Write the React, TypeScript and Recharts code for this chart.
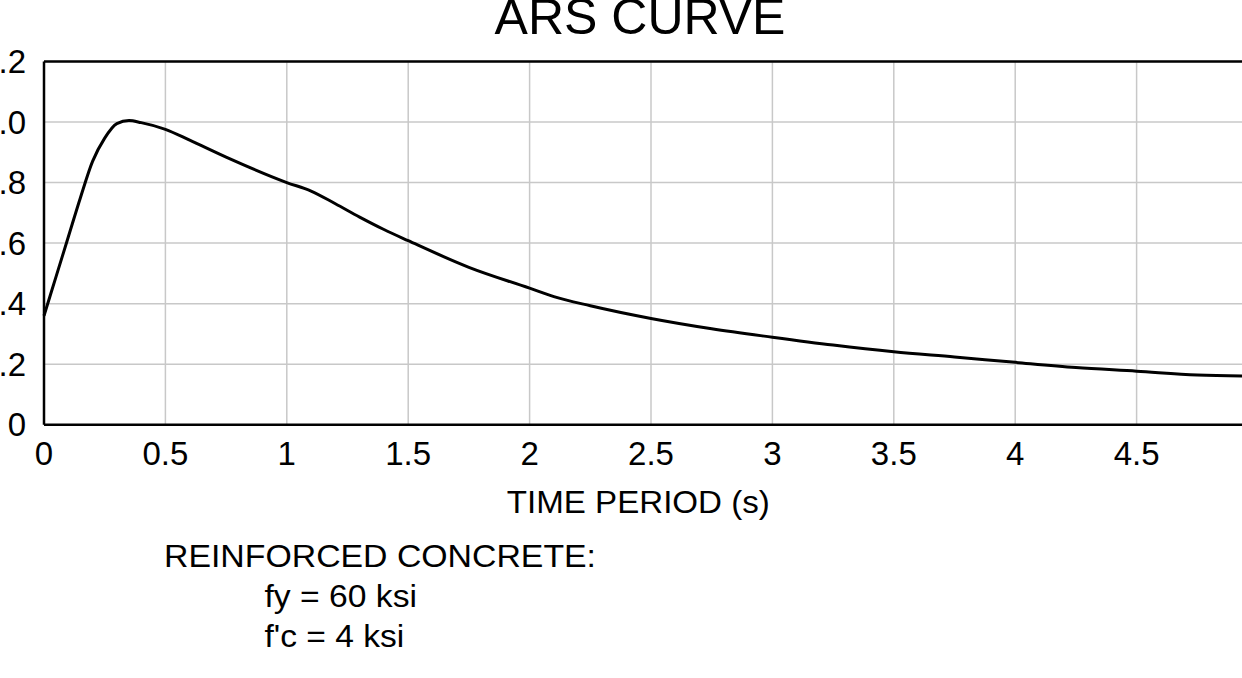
import React from 'react'
import { LineChart, Line, XAxis, YAxis, CartesianGrid, ReferenceLine } from 'recharts'

// period (s) and spectral acceleration
const periods = [0, 0.05, 0.1, 0.15, 0.2, 0.25, 0.3, 0.35, 0.4, 0.5, 0.6, 0.75, 1.0, 1.1, 1.2, 1.3, 1.4, 1.5, 1.75, 2.0, 2.1, 2.25, 2.5, 2.75, 3.0, 3.25, 3.5, 3.75, 4.0, 4.25, 4.5, 4.75, 5.0]
const accel = [0.36, 0.49, 0.62, 0.75, 0.87, 0.947, 0.995, 1.005, 0.998, 0.976, 0.94, 0.884, 0.8, 0.772, 0.73, 0.686, 0.645, 0.608, 0.52, 0.451, 0.423, 0.393, 0.351, 0.317, 0.289, 0.263, 0.241, 0.224, 0.206, 0.189, 0.177, 0.164, 0.16]

const xTicks = [0, 0.5, 1, 1.5, 2, 2.5, 3, 3.5, 4, 4.5, 5]
const yTicks = [0, 0.2, 0.4, 0.6, 0.8, 1.0, 1.2]

const title = 'ARS CURVE'
const xLabel = 'TIME PERIOD (s)'
const noteHead = 'REINFORCED CONCRETE:'
const noteLines = ['fy = 60 ksi', "f'c = 4 ksi"]
const noteWidths = [152.5, 139.6]

const data = periods.map((t, i) => ({ t, a: accel[i] }))

const FONT = '"Liberation Sans", Arial, sans-serif'
const tickStyle = { fontSize: 33, fill: '#000', fontFamily: FONT }

export default function App() {
  return (
    <div
      style={{
        position: 'fixed',
        left: 0,
        top: 0,
        width: 1242,
        height: 678,
        overflow: 'hidden',
        background: '#fff',
        fontFamily: FONT,
      }}
    >
      <div style={{ position: 'absolute', left: 0, top: 0 }}>
        <LineChart width={1270} height={678} data={data} margin={{ top: 61.5, right: 12, bottom: 192.3, left: 0 }}>
          <CartesianGrid stroke="#c8c8c8" strokeWidth={1.5} />
          <XAxis
            dataKey="t"
            type="number"
            domain={[0, 5]}
            ticks={xTicks}
            height={61}
            tickLine={false}
            tickSize={0}
            tickMargin={17}
            axisLine={{ stroke: '#000', strokeWidth: 2.5 }}
            tick={tickStyle}
            interval={0}
          />
          <YAxis
            type="number"
            domain={[0, 1.2]}
            ticks={yTicks}
            width={44}
            tickLine={false}
            tickSize={0}
            tickMargin={18}
            axisLine={{ stroke: '#000', strokeWidth: 2.5 }}
            tick={tickStyle}
            interval={0}
            tickFormatter={(v: number) => (v === 0 ? '0' : v.toFixed(1))}
          />
          <ReferenceLine y={1.2} stroke="#000" strokeWidth={2.5} />
          <ReferenceLine x={5} stroke="#000" strokeWidth={2.5} />
          <Line type="monotone" dataKey="a" stroke="#000" strokeWidth={3} dot={false} isAnimationActive={false} />
        </LineChart>
      </div>
      <svg width={1242} height={678} style={{ position: 'absolute', left: 0, top: 0, pointerEvents: 'none' }}>
        <text x={640} y={33.5} textAnchor="middle" fontSize={50} fontFamily={FONT} fill="#000">
          {title}
        </text>
        <text
          x={638.3}
          y={512.7}
          textAnchor="middle"
          fontSize={32}
          fontFamily={FONT}
          fill="#000"
          textLength={263}
          lengthAdjust="spacingAndGlyphs"
        >
          {xLabel}
        </text>
        <text x={164} y={567.3} fontSize={32} fontFamily={FONT} fill="#000" textLength={432} lengthAdjust="spacingAndGlyphs">
          {noteHead}
        </text>
        {noteLines.map((s, i) => (
          <text
            key={s}
            x={264.5}
            y={606.7 + i * 40}
            fontSize={32}
            fontFamily={FONT}
            fill="#000"
            textLength={noteWidths[i]}
            lengthAdjust="spacingAndGlyphs"
          >
            {s}
          </text>
        ))}
      </svg>
    </div>
  )
}
